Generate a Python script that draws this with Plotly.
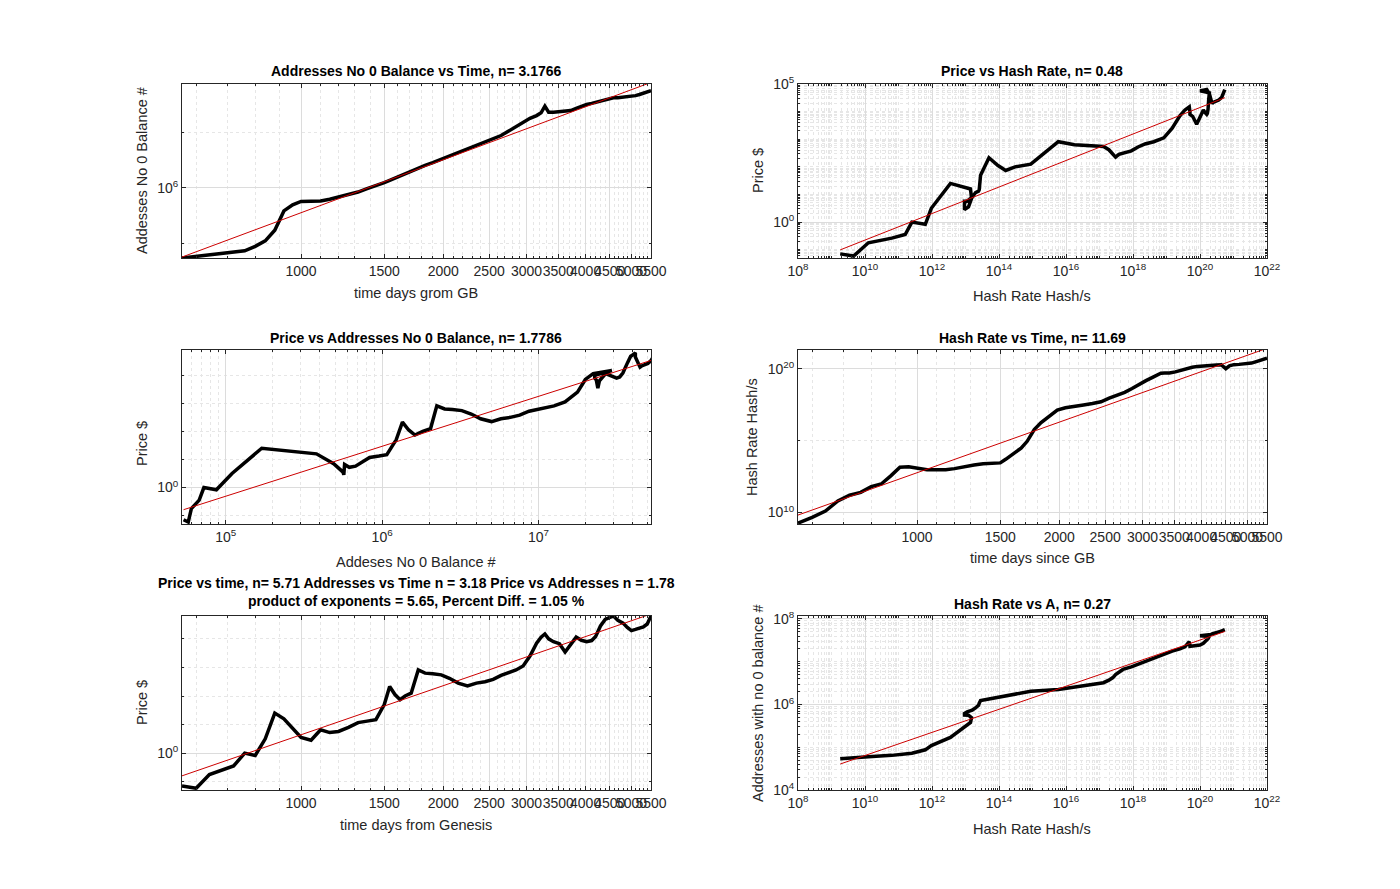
import numpy as np
import plotly.graph_objects as go

# ---------------- data ----------------
days = [560, 600, 640, 680, 720, 760, 800, 840, 880, 920, 960, 1000, 1050, 1100, 1150, 1200,
        1260, 1320, 1380, 1440, 1500, 1540, 1580, 1620, 1660, 1710, 1770, 1830, 1900, 1980,
        2060, 2150, 2250, 2350, 2450, 2550, 2650, 2750, 2850, 2950, 3050, 3150, 3220, 3280,
        3340, 3420, 3520, 3620, 3720, 3820, 3920, 4020, 4120, 4200, 4300, 4400, 4500, 4580,
        4680, 4800, 4900, 5000, 5100, 5200, 5300, 5400, 5500]

price_log10 = [-1.15, -1.23, -0.75, -0.58, -0.45, 0.0, -0.08, 0.5, 1.40, 1.2, 0.85, 0.55, 0.45,
               0.82, 0.72, 0.76, 0.9, 1.07, 1.12, 1.17, 1.7, 2.33, 2.05, 1.87, 2.0, 2.10, 2.91,
               2.80, 2.78, 2.74, 2.62, 2.45, 2.35, 2.45, 2.5, 2.58, 2.72, 2.83, 2.91, 3.05, 3.4,
               3.85, 4.06, 4.17, 4.0, 3.9, 3.83, 3.54, 3.8, 4.06, 3.95, 3.9, 3.94, 4.08, 4.45,
               4.68, 4.75, 4.80, 4.65, 4.55, 4.4, 4.29, 4.33, 4.38, 4.42, 4.52, 4.8]

addresses_log10 = [4.73, 4.76, 4.78, 4.81, 4.83, 4.86, 4.94, 5.04, 5.23, 5.58, 5.69, 5.75, 5.755,
                   5.76, 5.79, 5.83, 5.87, 5.92, 5.98, 6.03, 6.09, 6.13, 6.17, 6.21, 6.26, 6.31,
                   6.35, 6.40, 6.45, 6.51, 6.57, 6.63, 6.70, 6.76, 6.82, 6.88, 6.94, 7.02, 7.10,
                   7.17, 7.25, 7.30, 7.35, 7.47, 7.36, 7.36, 7.37, 7.38, 7.39, 7.43, 7.47, 7.50,
                   7.52, 7.54, 7.57, 7.59, 7.61, 7.62, 7.62, 7.63, 7.64, 7.65, 7.66, 7.68, 7.70,
                   7.72, 7.75]

hashrate_log10 = [9.26, 9.66, 10.1, 10.8, 11.2, 11.4, 11.8, 11.98, 12.55, 13.15, 13.18, 13.09,
                  12.97, 12.97, 12.97, 13.05, 13.20, 13.3, 13.39, 13.41, 13.45, 13.7, 13.97, 14.2,
                  14.48, 14.95, 15.77, 16.25, 16.7, 17.12, 17.28, 17.40, 17.48, 17.58, 17.70,
                  17.95, 18.15, 18.36, 18.62, 18.92, 19.17, 19.40, 19.55, 19.68, 19.70, 19.70,
                  19.78, 19.9, 20.0, 20.1, 20.16, 20.2, 20.22, 20.24, 20.26, 20.28, 20.0, 20.2,
                  20.28, 20.3, 20.33, 20.36, 20.39, 20.48, 20.56, 20.65, 20.74]

# stated exponents (titles)
n_addr_time = 3.1766
n_price_hash = 0.48
n_price_addr = 1.7786
n_hash_time = 11.69
n_price_time = 5.71
n_addr_hash = 0.27

time_ticks = [1000, 1500, 2000, 2500, 3000, 3500, 4000, 4500, 5000, 5500]
time_minor = [600, 700, 800, 900] + list(range(1100, 5500, 100))

t = np.array(days, float)
P = 10 ** np.array(price_log10)
A = 10 ** np.array(addresses_log10)
H = 10 ** np.array(hashrate_log10)

OFF = 8  # page body margin
W, Hh = 1400 - 2 * OFF, 889 - 2 * OFF
def xd(a, b): return [(a - OFF) / W, (b - OFF) / W]
def yd(top, bot): return [1 - (bot - OFF) / Hh, 1 - (top - OFF) / Hh]

cols = [(182, 651), (798, 1267)]
rows = [(84, 258), (350, 524), (616, 790)]

fig = go.Figure()

def fit_line(x, y, n):
    lx, ly = np.log10(x), np.log10(y)
    b = np.mean(ly - n * lx)
    xs = np.array([x.min(), x.max()])
    return xs, 10 ** (b + n * np.log10(xs))

panels = [
    ("", t, A, n_addr_time),
    ("2", H, P, n_price_hash),
    ("3", A, P, n_price_addr),
    ("4", t, H, n_hash_time),
    ("5", t, P, n_price_time),
    ("6", H, A, n_addr_hash),
]
for suf, x, y, n in panels:
    xa, ya = "x" + suf, "y" + suf
    fig.add_trace(go.Scatter(x=x, y=y, mode="lines", line=dict(color="black", width=3.5),
                             xaxis=xa, yaxis=ya, showlegend=False))
    fx, fy = fit_line(x, y, n)
    fig.add_trace(go.Scatter(x=fx, y=fy, mode="lines", line=dict(color="#cc0000", width=1),
                             xaxis=xa, yaxis=ya, showlegend=False))

FAM = "Liberation Sans, Arial"
font = dict(family=FAM, size=14, color="#262626")
grid = "#dcdcdc"
mgrid = "#e6e6e6"

def pow_lab(e): return "10<sup>%d</sup>" % e

def base_axis(domain, anchor, rng):
    return dict(type="log", domain=domain, anchor=anchor, range=rng, showline=True, mirror="ticks",
                linecolor="#262626", linewidth=1, ticks="inside", ticklen=4, tickcolor="#262626",
                showgrid=True, gridcolor=grid, gridwidth=1, zeroline=False, tickfont=font,
                tickangle=0, automargin=False)

def time_axis(domain, anchor):
    d = base_axis(domain, anchor, [np.log10(560), np.log10(5500)])
    d.update(tickmode="array", tickvals=time_ticks, ticktext=[str(v) for v in time_ticks],
             minor=dict(tickvals=time_minor, showgrid=True, gridcolor=mgrid, griddash="dot",
                        ticks="inside", ticklen=2, tickcolor="#262626"))
    return d

def dec_axis(domain, anchor, rng, labels, dense):
    d = base_axis(domain, anchor, rng)
    d.update(tickmode="array", tickvals=[10.0 ** e for e in labels], ticktext=[pow_lab(e) for e in labels])
    lo, hi = int(np.floor(rng[0])), int(np.ceil(rng[1]))
    if dense:
        mv = [m * 10.0 ** e for e in range(lo, hi + 1) for m in range(1, 10)]
    else:
        mv = [10.0 ** e for e in range(lo, hi + 1)]
    mv = [v for v in mv if v not in d["tickvals"]]
    d["minor"] = dict(tickvals=mv, showgrid=True, gridcolor=mgrid, griddash="dot",
                      ticks="inside", ticklen=2, tickcolor="#262626")
    return d

L = dict()
L["xaxis"] = time_axis(xd(*cols[0]), "y")
L["yaxis"] = dec_axis(yd(*rows[0]), "x", [4.73, 7.87], [6], False)
L["xaxis2"] = dec_axis(xd(*cols[1]), "y2", [8, 22], [8, 10, 12, 14, 16, 18, 20, 22], True)
L["yaxis2"] = dec_axis(yd(*rows[0]), "x2", [-1.3, 5.0], [0, 5], True)
L["xaxis3"] = dec_axis(xd(*cols[0]), "y3", [4.72, 7.72], [5, 6, 7], True)
L["yaxis3"] = dec_axis(yd(*rows[1]), "x3", [-1.3, 4.9], [0], False)
L["xaxis4"] = time_axis(xd(*cols[1]), "y4")
L["yaxis4"] = dec_axis(yd(*rows[1]), "x4", [9.2, 21.3], [10, 20], False)
L["yaxis4"]["minor"]["tickvals"] = [1e15]
L["xaxis5"] = time_axis(xd(*cols[0]), "y5")
L["yaxis5"] = dec_axis(yd(*rows[2]), "x5", [-1.29, 4.8], [0], False)
L["xaxis6"] = dec_axis(xd(*cols[1]), "y6", [8, 22], [8, 10, 12, 14, 16, 18, 20, 22], True)
L["yaxis6"] = dec_axis(yd(*rows[2]), "x6", [4, 8.07], [4, 6, 8], True)

ann = []
def text(x, y, s, size=14.5, bold=False, angle=0):
    ann.append(dict(x=(x - OFF) / W, y=1 - (y - OFF) / Hh, xref="paper", yref="paper",
                    text=("<b>%s</b>" % s) if bold else s,
                    showarrow=False, textangle=angle, xanchor="center", yanchor="middle",
                    font=dict(family=FAM, size=size, color="black" if bold else "#262626")))

TS = 14
text(416, 71, "Addresses No 0 Balance vs Time, n= 3.1766", TS, True)
text(1032, 71, "Price vs Hash Rate, n= 0.48", TS, True)
text(416, 338, "Price vs Addresses No 0 Balance, n= 1.7786", TS, True)
text(1032, 338, "Hash Rate vs Time, n= 11.69", TS, True)
text(416, 583, "Price vs time, n= 5.71 Addresses vs Time n = 3.18 Price vs Addresses n = 1.78", TS, True)
text(416, 601, "product of exponents = 5.65, Percent Diff. = 1.05 %", TS, True)
text(1032, 604, "Hash Rate vs A, n= 0.27", TS, True)

text(416, 293, "time days grom GB")
text(1032, 296, "Hash Rate Hash/s")
text(416, 562, "Addeses No 0 Balance #")
text(1032, 558, "time days since GB")
text(416, 825, "time days from Genesis")
text(1032, 829, "Hash Rate Hash/s")

text(142, 171, "Addesses No 0 Balance #", angle=-90)
text(758, 171, "Price $", angle=-90)
text(142, 444, "Price $", angle=-90)
text(752, 437, "Hash Rate Hash/s", angle=-90)
text(142, 703, "Price $", angle=-90)
text(758, 703, "Addresses with no 0 balance #", angle=-90)

fig.update_layout(width=W, height=Hh, margin=dict(l=0, r=0, t=0, b=0), paper_bgcolor="white",
                  plot_bgcolor="white", annotations=ann, **L)
fig.write_html("out.html")
